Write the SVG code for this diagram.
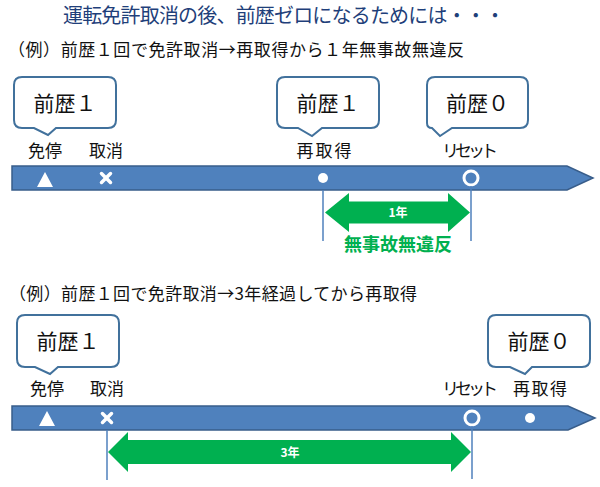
<svg xmlns="http://www.w3.org/2000/svg" width="600" height="487" viewBox="0 0 600 487">
<style>
text{font-family:"Noto Sans CJK JP","Noto Sans",sans-serif;}
.title{font-size:20px;fill:#1f3f7a;}
.sub{font-size:17px;fill:#111;}
.call{fill:#fff;stroke:#41719c;stroke-width:2;}
.ctext{font-size:21px;fill:#111;text-anchor:middle;}
.lbl{font-size:17px;fill:#111;text-anchor:middle;}
.bar{fill:#4f81bd;stroke:#385d8a;stroke-width:1.5;}
.mk{fill:#fff;}
.xm{stroke:#fff;stroke-width:3.5;stroke-linecap:round;}
.ring{fill:none;stroke:#fff;stroke-width:3;}
.vl{stroke:#4f81bd;stroke-width:1.5;}
.garrow{fill:#00b050;}
.gtext{font-size:12px;font-weight:bold;fill:#fff;text-anchor:middle;}
.gtitle{font-size:18px;font-weight:bold;fill:#00b050;text-anchor:middle;}
</style>

<text class="title" x="63" y="23" textLength="442">運転免許取消の後、前歴ゼロになるためには・・・</text>
<text class="sub" x="8" y="56" textLength="456">（例）前歴１回で免許取消→再取得から１年無事故無違反</text>
<text class="sub" x="9" y="300" textLength="408">（例）前歴１回で免許取消→3年経過してから再取得</text>

<g id="timeline1">
<path class="bar" d="M12,166 H567 L593,178 L567,190 H12 Z"/>
<polygon class="mk" points="45,172 37,187 53,187"/>
<line class="xm" x1="101.5" y1="173.5" x2="110.5" y2="182.5"/>
<line class="xm" x1="110.5" y1="173.5" x2="101.5" y2="182.5"/>
<circle class="mk" cx="323" cy="178" r="5"/>
<circle class="ring" cx="471" cy="178" r="7"/>
</g>

<g id="timeline2">
<path class="bar" d="M12,406 H568 L595,418 L568,430 H12 Z"/>
<polygon class="mk" points="47,411 39,426 55,426"/>
<line class="xm" x1="102.5" y1="413.5" x2="111.5" y2="422.5"/>
<line class="xm" x1="111.5" y1="413.5" x2="102.5" y2="422.5"/>
<circle class="ring" cx="472" cy="418" r="7"/>
<circle class="mk" cx="530" cy="418" r="5"/>
</g>

<g id="callout-a">
<path class="call" d="M22,77 H108 Q116,77 116,85 V120 Q116,128 108,128 H56 L48,135 L34,128 H22 Q14,128 14,120 V85 Q14,77 22,77 Z"/>
<text class="ctext" x="65" y="111">前歴１</text>
</g>
<g id="callout-b">
<path class="call" d="M285,77 H371 Q379,77 379,85 V120 Q379,128 371,128 H322 L312,136 L298,128 H285 Q277,128 277,120 V85 Q277,77 285,77 Z"/>
<text class="ctext" x="328" y="111">前歴１</text>
</g>
<g id="callout-c">
<path class="call" d="M435,77 H520 Q528,77 528,85 V120 Q528,128 520,128 H452 L440,136 L432,128 Q427,128 427,123 V85 Q427,77 435,77 Z"/>
<text class="ctext" x="477.5" y="111">前歴０</text>
</g>
<g id="callout-d">
<path class="call" d="M25,315 H111 Q119,315 119,323 V359 Q119,367 111,367 H58 L50,374 L35,367 H25 Q17,367 17,359 V323 Q17,315 25,315 Z"/>
<text class="ctext" x="68" y="349">前歴１</text>
</g>
<g id="callout-e">
<path class="call" d="M496,315 H582 Q590,315 590,323 V359 Q590,367 582,367 H532 L525,374 L510,367 H496 Q488,367 488,359 V323 Q488,315 496,315 Z"/>
<text class="ctext" x="539" y="349">前歴０</text>
</g>

<g id="labels1">
<text class="lbl" x="45" y="157">免停</text>
<text class="lbl" x="106" y="157">取消</text>
<text class="lbl" x="324" y="157" textLength="55">再取得</text>
<text class="lbl" x="470" y="157" textLength="56">リセット</text>
</g>
<g id="labels2">
<text class="lbl" x="47" y="395">免停</text>
<text class="lbl" x="107" y="395">取消</text>
<text class="lbl" x="470" y="395" textLength="56">リセット</text>
<text class="lbl" x="540" y="395" textLength="54">再取得</text>
</g>

<g id="connectors">
<line class="vl" x1="323" y1="190" x2="323" y2="241"/>
<line class="vl" x1="471" y1="186" x2="471" y2="241"/>
<line class="vl" x1="107" y1="430" x2="107" y2="480"/>
<line class="vl" x1="472" y1="426" x2="472" y2="479"/>
<polygon class="garrow" points="325,212.5 349,193 349,201.5 448,201.5 448,193 470,212.5 448,232 448,223.5 349,223.5 349,232"/>
<polygon class="garrow" points="108,452 128,432 128,440 451,440 451,432 471,452 451,472 451,464 128,464 128,472"/>
</g>

<g id="period-labels">
<text class="gtext" x="398" y="217">1年</text>
<text class="gtitle" x="398" y="251">無事故無違反</text>
<text class="gtext" x="290" y="457">3年</text>
</g>
</svg>
